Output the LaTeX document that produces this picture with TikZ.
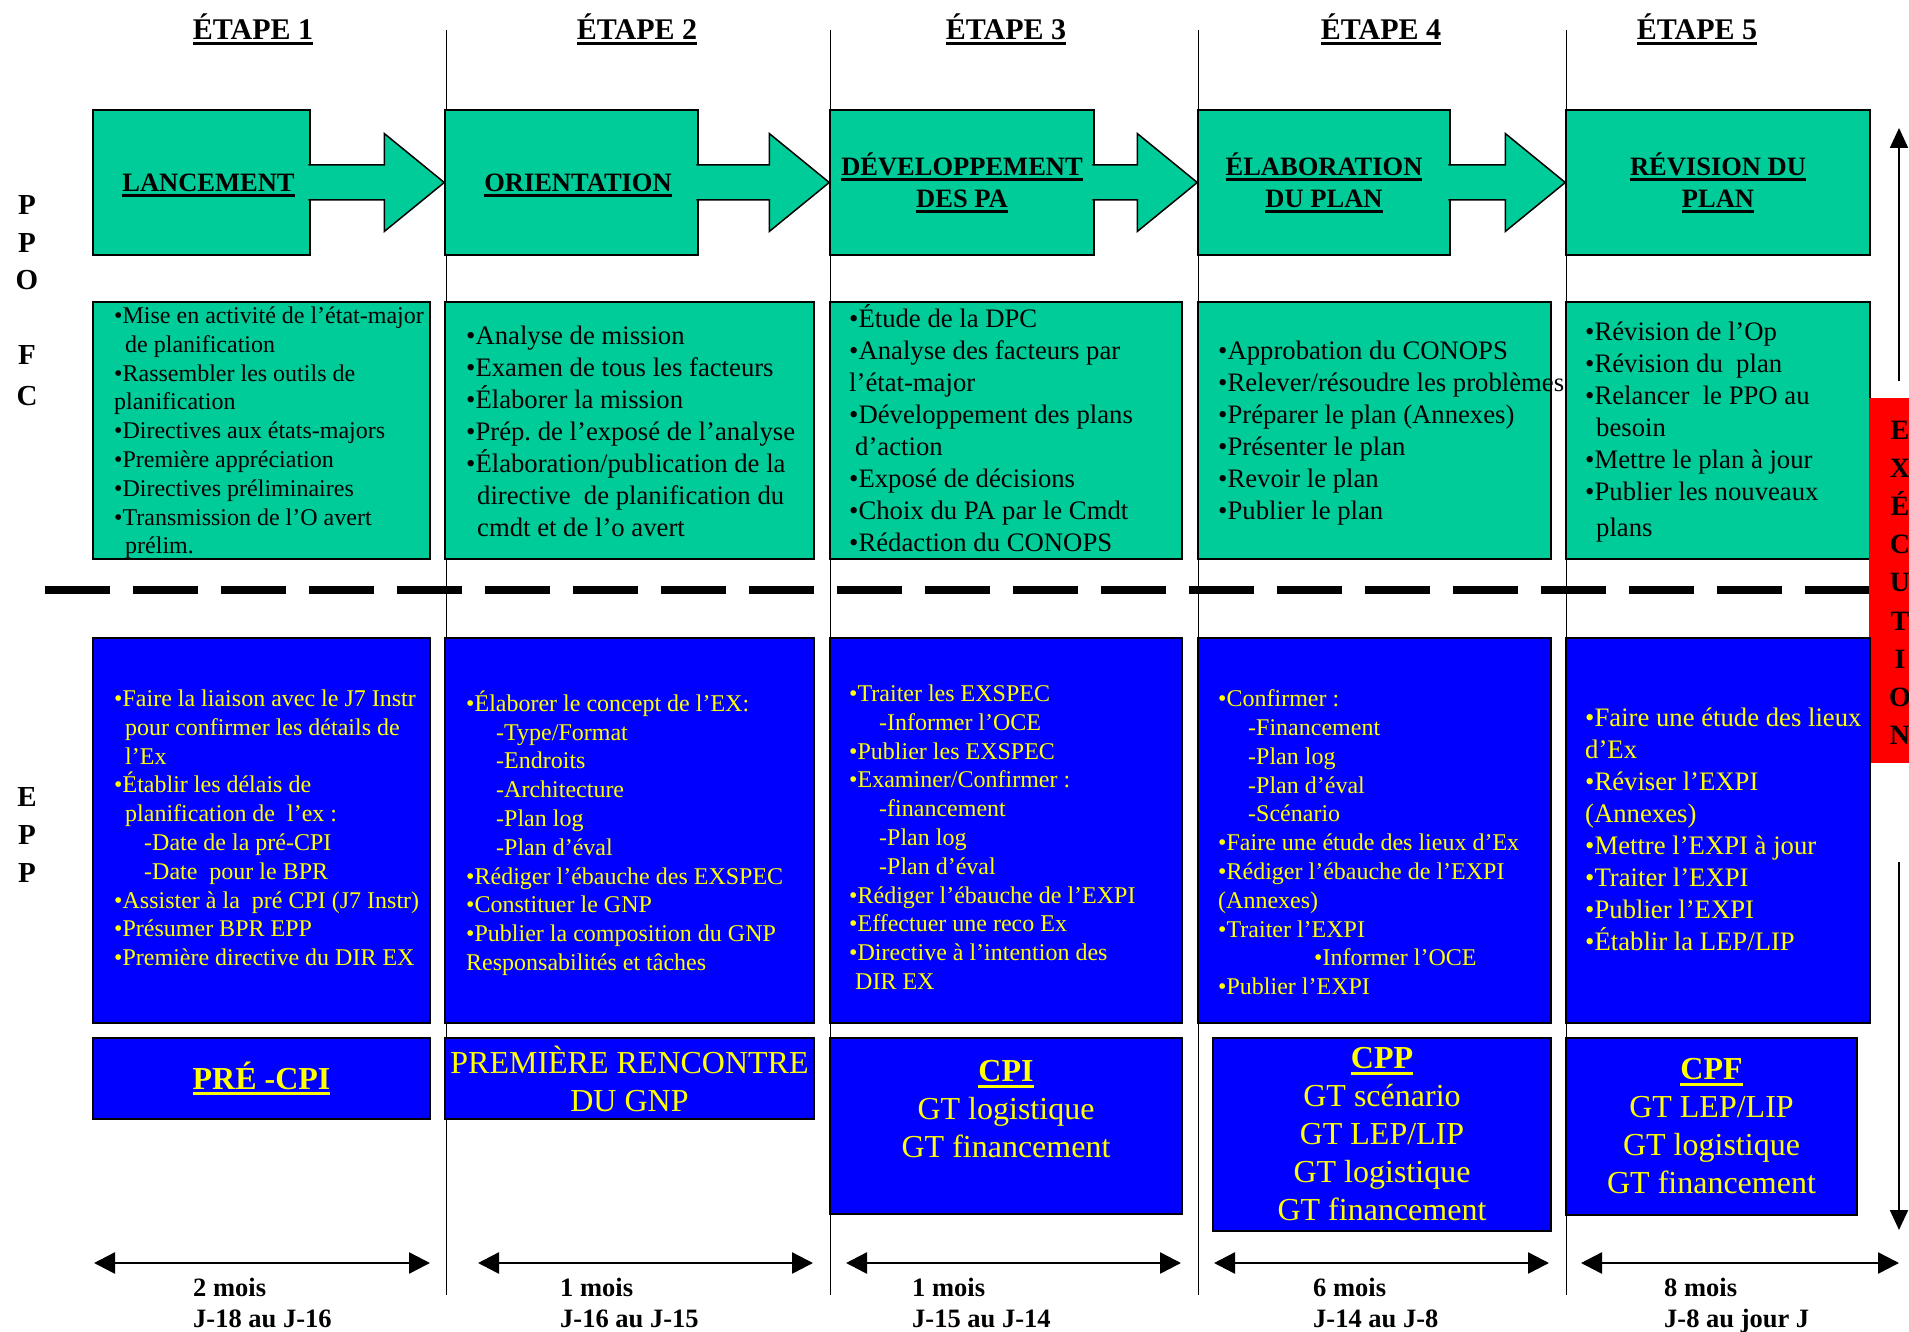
\documentclass[tikz,border=0pt]{standalone}
\usepackage{fontspec}
\setmainfont{Liberation Serif}
\usetikzlibrary{calc,arrows.meta}
\frenchspacing

\definecolor{ppogreen}{RGB}{0,204,153}
\definecolor{eppblue}{RGB}{0,0,255}
\definecolor{eppyellow}{RGB}{255,255,0}
\definecolor{execred}{RGB}{255,0,0}

\newcommand{\ulined}[1]{\leavevmode\setbox0=\hbox{#1}\rlap{\rule[-0.2em]{\wd0}{0.1em}}\box0}
\newcommand{\bigtxt}{\fontsize{26.7}{32}\selectfont}
\newcommand{\smalltxt}{\fontsize{24}{28.8}\selectfont}
\newcommand{\indcont}{\hspace*{11pt}}
\newcommand{\indsub}{\hspace*{30pt}}
% green block arrow from one stage box to the next
\newcommand{\blockarrow}[2]{%
  \filldraw[fill=ppogreen, draw=black, line width=1.5pt]
    ($(#1.east)+(-2.5,-17.5)$) -- ($(#2.west)+(-60,-17.5)$) -- ($(#2.west)+(-60,-49)$)
    -- (#2.west) -- ($(#2.west)+(-60,49)$) -- ($(#2.west)+(-60,17.5)$)
    -- ($(#1.east)+(-2.5,17.5)$);
}

\begin{document}
\begin{tikzpicture}[x=1pt,y=-1pt]
\tikzset{
  stagebox/.style={draw=black, line width=1.5pt, fill=ppogreen, inner sep=0pt,
    minimum height=145pt, align=center, font=\fontsize{26.5}{32}\selectfont\bfseries},
  greenbox/.style={draw=black, line width=1.5pt, fill=ppogreen, inner sep=0pt},
  bluebox/.style={draw=black, line width=1.5pt, fill=eppblue, inner sep=0pt,
    text=eppyellow, align=center, font=\fontsize{32}{38}\selectfont},
  bodytext/.style={anchor=north west, align=left, inner sep=0pt, execute at begin node=\strut},
  etape/.style={anchor=base, inner sep=0pt, font=\fontsize{30}{36}\selectfont\bfseries},
  sideletter/.style={inner sep=0pt, font=\fontsize{29}{34}\selectfont\bfseries},
  execletter/.style={anchor=base, inner sep=0pt, font=\fontsize{28}{34}\selectfont\bfseries},
  duration/.style={anchor=north west, align=left, inner sep=0pt,
    font=\fontsize{26.5}{31}\selectfont\bfseries, execute at begin node=\strut},
  span/.style={line width=2.5pt, {Triangle[length=21pt,width=21pt]}-{Triangle[length=21pt,width=21pt]}},
}
\path[fill=white] (0,0) rectangle (1909,1332);
\useasboundingbox (0,0) rectangle (1909,1332);

% column separators and the PPO / EPP split
\foreach \xx in {446,830,1198,1566}
  \draw[line width=1pt] (\xx,30) -- (\xx,1295);
\draw[line width=8pt, dash pattern=on 65pt off 23pt] (45,590) -- (1869,590);

\foreach \n/\xx in {1/253,2/637,3/1006,4/1381,5/1697}
  \node[etape] (etape\n) at (\xx,39.5) {\ulined{ÉTAPE \n}};

\foreach \ch/\yy in {P/205,P/243,O/280,F/355,C/396,E/797,P/835,P/873}
  \node[sideletter] (side\yy) at (27,\yy) {\ch};

% stages
\node[stagebox, minimum width=217pt, text depth=0pt] (lancement) at (201.5,182.5) {\hspace*{14pt}\ulined{LANCEMENT}};
\node[stagebox, minimum width=253pt, text depth=0pt] (orientation) at (571.5,182.5) {\hspace*{13pt}\ulined{ORIENTATION}};
\node[stagebox, minimum width=264pt] (developpement) at (962,182.5) {\ulined{DÉVELOPPEMENT}\\\ulined{DES PA}};
\node[stagebox, minimum width=252pt] (elaboration) at (1324,182.5) {\ulined{ÉLABORATION}\\\ulined{DU PLAN}};
\node[stagebox, minimum width=304pt] (revision) at (1718,182.5) {\ulined{RÉVISION DU}\\\ulined{PLAN}};
\blockarrow{lancement}{orientation}
\blockarrow{orientation}{developpement}
\blockarrow{developpement}{elaboration}
\blockarrow{elaboration}{revision}

% PPO tasks
\node[greenbox, minimum width=337pt, minimum height=257pt] (ppo1) at (261.5,430.5) {};
\node[greenbox, minimum width=369pt, minimum height=257pt] (ppo2) at (629.5,430.5) {};
\node[greenbox, minimum width=352pt, minimum height=257pt] (ppo3) at (1006,430.5) {};
\node[greenbox, minimum width=353pt, minimum height=257pt] (ppo4) at (1374.5,430.5) {};
\node[greenbox, minimum width=304pt, minimum height=257pt] (ppo5) at (1718,430.5) {};

\node[bodytext, font=\smalltxt] (ppotext1) at (114,306.6) {%
•Mise en activité de l’état-major\\
\indcont de planification\\
•Rassembler les outils de\\
planification\\
•Directives aux états-majors\\
•Première appréciation\\
•Directives préliminaires\\
•Transmission de l’O avert\\
\indcont prélim.};
\node[bodytext, font=\bigtxt] (ppotext2) at (466,326.2) {%
•Analyse de mission\\
•Examen de tous les facteurs\\
•Élaborer la mission\\
•Prép. de l’exposé de l’analyse\\
•Élaboration/publication de la\\
\indcont directive\ \ de planification du\\
\indcont cmdt et de l’o avert};
\node[bodytext, font=\bigtxt] (ppotext3) at (849,304.8) {%
•Étude de la DPC\\
•Analyse des facteurs par\\
l’état-major\\
•Développement des plans\\
\hspace*{6pt}d’action\\
•Exposé de décisions\\
•Choix du PA par le Cmdt\\
•Rédaction du CONOPS};
\node[bodytext, font=\bigtxt] (ppotext4) at (1218,341.2) {%
•Approbation du CONOPS\\
•Relever/résoudre les problèmes\\
•Préparer le plan (Annexes)\\
•Présenter le plan\\
•Revoir le plan\\
•Publier le plan};
\node[bodytext, font=\bigtxt] (ppotext5) at (1585,322.2) {%
•Révision de l’Op\\
•Révision du\ \ plan\\
•Relancer\ \ le PPO au\\
\indcont besoin\\
•Mettre le plan à jour\\
•Publier les nouveaux\\[4pt]
\indcont plans};

% execution
\node[fill=execred, inner sep=0pt, minimum width=40pt, minimum height=365pt] (execbox) at (1889,580.5) {};
\foreach \ch [count=\i from 0] in {E,X,É,C,U,T,I,O,N}
  \node[execletter] (exec\i) at (1900,{439+38.2*\i}) {\ch};
\coordinate (execup) at (1899,381);
\coordinate (exectop) at (1899,128);
\coordinate (execdown) at (1899,862);
\coordinate (execbottom) at (1899,1230);
\draw[line width=2pt, -{Triangle[length=20pt,width=18pt]}] (execup) -- (exectop);
\draw[line width=2pt, -{Triangle[length=20pt,width=18pt]}] (execdown) -- (execbottom);

% EPP tasks
\node[bluebox, minimum width=337pt, minimum height=385pt] (epp1) at (261.5,830.5) {};
\node[bluebox, minimum width=369pt, minimum height=385pt] (epp2) at (629.5,830.5) {};
\node[bluebox, minimum width=352pt, minimum height=385pt] (epp3) at (1006,830.5) {};
\node[bluebox, minimum width=353pt, minimum height=385pt] (epp4) at (1374.5,830.5) {};
\node[bluebox, minimum width=304pt, minimum height=385pt] (epp5) at (1718,830.5) {};

\node[bodytext, text=eppyellow, font=\smalltxt] (epptext1) at (114,689.6) {%
•Faire la liaison avec le J7 Instr\\
\indcont pour confirmer les détails de\\
\indcont l’Ex\\
•Établir les délais de\\
\indcont planification de\ \ l’ex :\\
\indsub -Date de la pré-CPI\\
\indsub -Date\ \ pour le BPR\\
•Assister à la\ \ pré CPI (J7 Instr)\\
•Présumer BPR EPP\\
•Première directive du DIR EX};
\node[bodytext, text=eppyellow, font=\smalltxt] (epptext2) at (466,690.4) {%
•Élaborer le concept de l’EX:\\
\indsub -Type/Format\\
\indsub -Endroits\\
\indsub -Architecture\\
\indsub -Plan log\\
\indsub -Plan d’éval\\
•Rédiger l’ébauche des EXSPEC\\
•Constituer le GNP\\
•Publier la composition du GNP\\
Responsabilités et tâches};
\node[bodytext, text=eppyellow, font=\smalltxt] (epptext3) at (849,684.6) {%
•Traiter les EXSPEC\\
\indsub -Informer l’OCE\\
•Publier les EXSPEC\\
•Examiner/Confirmer :\\
\indsub -financement\\
\indsub -Plan log\\
\indsub -Plan d’éval\\
•Rédiger l’ébauche de l’EXPI\\
•Effectuer une reco Ex\\
•Directive à l’intention des\\
\hspace*{6pt}DIR EX};
\node[bodytext, text=eppyellow, font=\smalltxt] (epptext4) at (1218,689.6) {%
•Confirmer :\\
\indsub -Financement\\
\indsub -Plan log\\
\indsub -Plan d’éval\\
\indsub -Scénario\\
•Faire une étude des lieux d’Ex\\
•Rédiger l’ébauche de l’EXPI\\
(Annexes)\\
•Traiter l’EXPI\\
\hspace*{96pt}•Informer l’OCE\\
•Publier l’EXPI};
\node[bodytext, text=eppyellow, font=\bigtxt] (epptext5) at (1585,708.2) {%
•Faire une étude des lieux\\
d’Ex\\
•Réviser l’EXPI\\
(Annexes)\\
•Mettre l’EXPI à jour\\
•Traiter l’EXPI\\
•Publier l’EXPI\\
•Établir la LEP/LIP};

% meetings
\node[bluebox, minimum width=337pt, minimum height=81pt] (meet1) at (261.5,1078.5) {\bfseries\ulined{PRÉ -CPI}};
\node[bluebox, minimum width=369pt, minimum height=81pt] (meet2) at (629.5,1078.5) {PREMIÈRE RENCONTRE\\DU GNP};
\node[bluebox, minimum width=352pt, minimum height=176pt] (meet3) at (1006,1126) {};
\node[bluebox, anchor=north, draw=none, fill=none, execute at begin node=\strut] (meet3text) at (1006,1060)
  {{\bfseries\ulined{CPI}}\\GT logistique\\GT financement};
\node[bluebox, minimum width=338pt, minimum height=193pt] (meet4) at (1382,1134.5)
  {{\bfseries\ulined{CPP}}\\GT scénario\\GT LEP/LIP\\GT logistique\\GT financement};
\node[bluebox, minimum width=291pt, minimum height=177pt] (meet5) at (1711.5,1126.5)
  {{\bfseries\ulined{CPF}}\\GT LEP/LIP\\GT logistique\\GT financement};

% durations
\coordinate (span1a) at (94,1263);   \coordinate (span1b) at (430,1263);
\coordinate (span2a) at (478,1263);  \coordinate (span2b) at (813,1263);
\coordinate (span3a) at (846,1263);  \coordinate (span3b) at (1181,1263);
\coordinate (span4a) at (1214,1263); \coordinate (span4b) at (1549,1263);
\coordinate (span5a) at (1581,1263); \coordinate (span5b) at (1899,1263);
\foreach \n in {1,...,5}
  \draw[span] (span\n a) -- (span\n b);

\node[duration] (dur1) at (193,1277.8) {2 mois\\J-18 au J-16};
\node[duration] (dur2) at (560,1277.8) {1 mois\\J-16 au J-15};
\node[duration] (dur3) at (912,1277.8) {1 mois\\J-15 au J-14};
\node[duration] (dur4) at (1313,1277.8) {6 mois\\J-14 au J-8};
\node[duration] (dur5) at (1664,1277.8) {8 mois\\J-8 au jour J};
\end{tikzpicture}
\end{document}
